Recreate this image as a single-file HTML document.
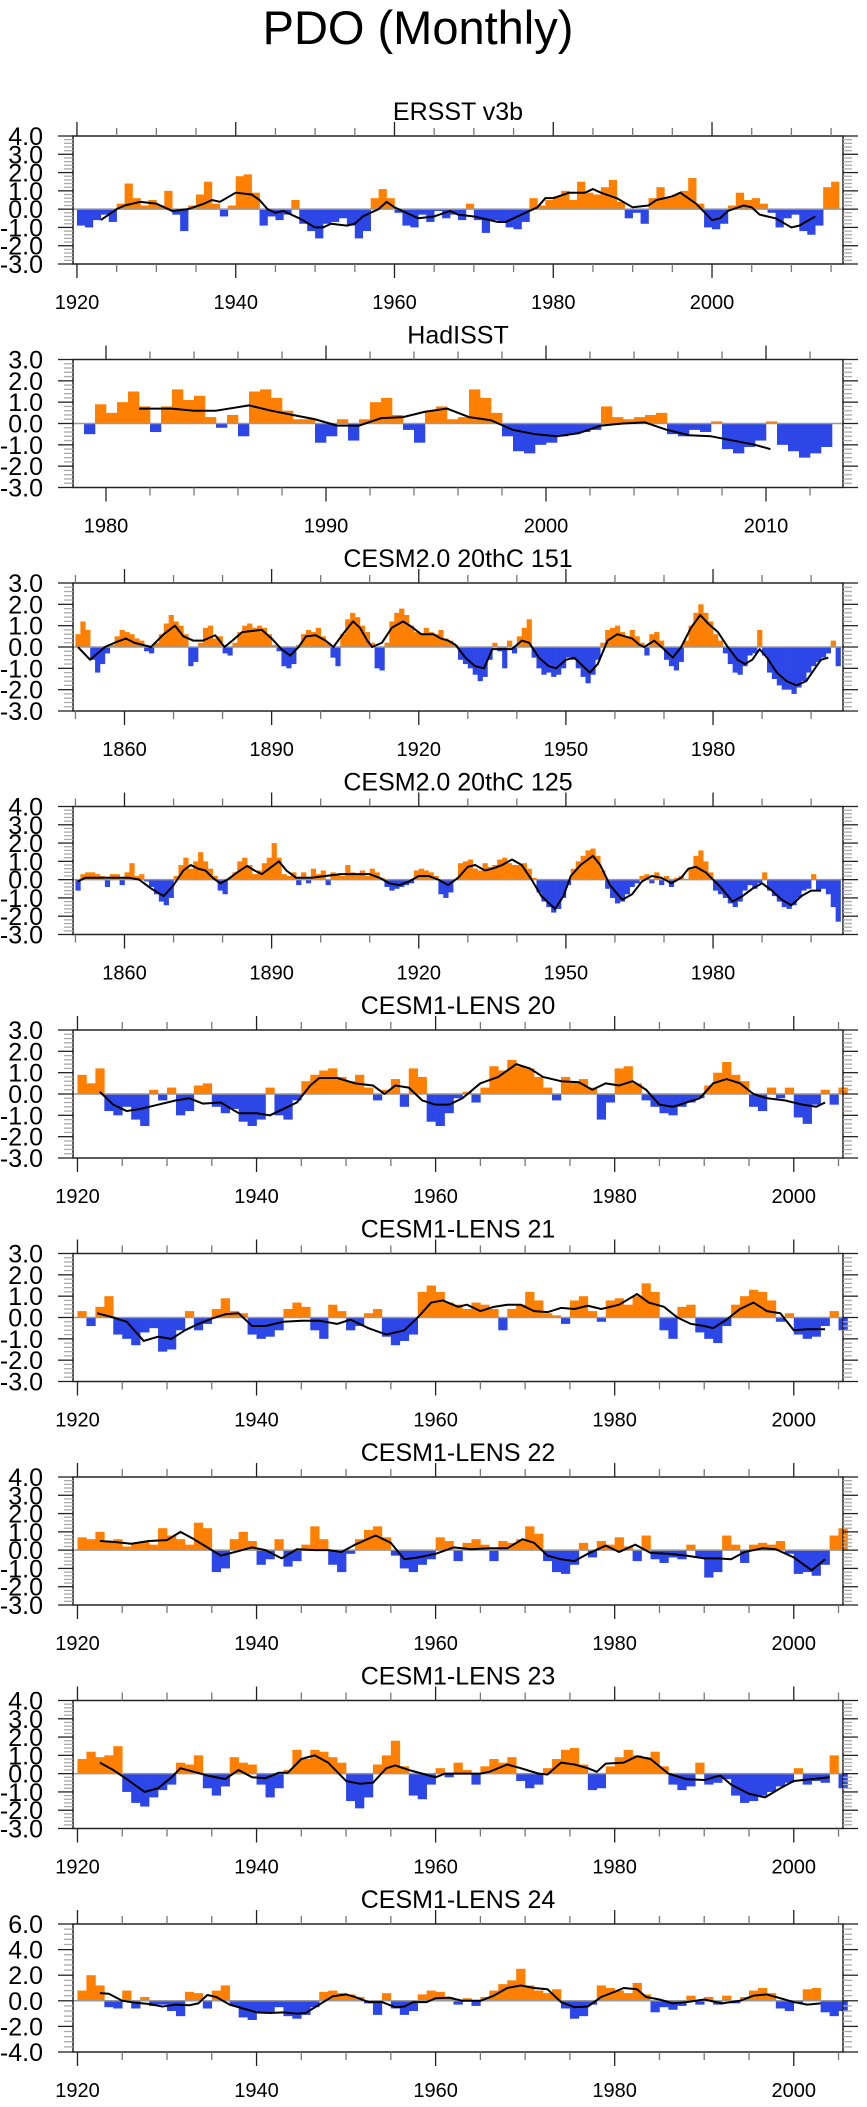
<!DOCTYPE html>
<html>
<head>
<meta charset="utf-8">
<style>
html,body{margin:0;padding:0;background:#fff;}
svg{display:block;font-family:"Liberation Sans",Arial,sans-serif;}
</style>
</head>
<body>
<svg id="chart" width="867" height="2107" viewBox="0 0 867 2107" xmlns="http://www.w3.org/2000/svg">
<rect x="0" y="0" width="867" height="2107" fill="#fff"/>
<text x="418" y="44" font-size="47" text-anchor="middle" fill="#000">PDO (Monthly)</text>
</svg>
<script>
// ---- data arrays (yearly estimates) ----
const titles = ["ERSST v3b","HadISST","CESM2.0 20thC 151","CESM2.0 20thC 125","CESM1-LENS 20","CESM1-LENS 21","CESM1-LENS 22","CESM1-LENS 23","CESM1-LENS 24"];

const ersstStart = 1920;
const ersstVals = [-0.9,-1.0,-0.6,-0.3,-0.7,0.3,1.4,0.6,0.2,0.5,0.2,1.0,-0.3,-1.2,0.2,0.8,1.5,0.3,-0.4,0.2,1.8,1.9,0.9,-0.9,-0.4,-0.6,-0.3,0.5,-0.8,-1.2,-1.6,-0.8,-0.7,-0.5,-0.9,-1.6,-1.2,0.6,1.1,0.6,-0.2,-0.9,-1.0,-0.3,-0.7,-0.1,-0.5,-0.3,-0.6,0.3,-0.6,-1.3,-0.6,-0.7,-1.0,-1.1,-0.7,0.6,0.2,0.5,0.7,1.0,0.5,1.5,0.9,0.8,1.2,1.6,0.4,-0.5,-0.2,-0.8,0.6,1.2,0.6,0.8,1.0,1.7,0.3,-1.0,-1.1,-0.8,0.2,0.9,0.5,0.6,0.3,-0.2,-1.0,-0.5,-0.3,-1.2,-1.4,-0.9,1.2,1.5];
const ersstSmoothX = [1923,1925,1926,1928,1930,1932,1934,1936,1937,1938,1940,1942,1943,1944,1945,1946,1948,1950,1951,1952,1954,1955,1956,1958,1959,1960,1962,1963,1965,1967,1968,1970,1972,1973,1974,1976,1978,1979,1980,1982,1984,1985,1986,1988,1990,1992,1993,1995,1996,1998,2000,2001,2002,2004,2005,2006,2008,2010,2011,2013];
const ersstSmoothY = [-0.6,0.0,0.2,0.4,0.3,-0.1,0.0,0.3,0.5,0.4,0.9,0.8,0.5,0.0,-0.2,-0.1,-0.5,-1.0,-1.0,-0.8,-0.9,-0.8,-0.4,0.0,0.4,0.1,-0.3,-0.5,-0.4,-0.1,-0.3,-0.4,-0.6,-0.7,-0.7,-0.3,0.1,0.6,0.6,0.9,0.9,1.1,0.9,0.6,0.1,0.2,0.5,0.7,0.9,0.3,-0.6,-0.5,-0.1,0.2,0.1,-0.3,-0.5,-1.0,-0.9,-0.4];

const hadStart = 1979;
const hadVals = [-0.5,0.9,0.5,1.0,1.5,0.8,-0.4,0.8,1.6,1.1,1.3,0.3,-0.2,0.4,-0.6,1.5,1.6,1.2,0.6,0.2,0.2,-0.9,-0.6,0.2,-0.8,0.2,1.0,1.2,0.4,-0.3,-0.9,0.6,0.8,0.2,0.3,1.6,1.2,0.5,-0.6,-1.3,-1.4,-1.0,-0.9,-0.6,-0.5,-0.4,-0.3,0.8,0.3,0.2,0.3,0.4,0.5,-0.5,-0.6,-0.3,-0.4,0.1,-1.2,-1.4,-1.1,-0.8,0.1,-1.0,-1.3,-1.6,-1.4,-1.1];
const hadSmoothX = [1981.5,1983,1984,1985,1986.5,1987.5,1988.5,1989.5,1990.5,1991.5,1992.5,1993.5,1994.5,1995.5,1996.5,1997.5,1998.5,1999.5,2000.5,2001.5,2002.5,2003.5,2004.5,2005.5,2006.5,2007.5,2008.5,2009.5,2010.2];
const hadSmoothY = [0.7,0.7,0.6,0.6,0.85,0.6,0.4,0.2,-0.1,-0.1,0.25,0.3,0.55,0.7,0.3,0.15,-0.3,-0.5,-0.6,-0.45,-0.1,0.0,0.05,-0.3,-0.55,-0.6,-0.8,-1.0,-1.2];

const c151Start = 1850;
const c151Vals = [0.6,1.2,0.8,-0.6,-1.2,-0.8,-0.3,0.1,0.5,0.8,0.7,0.6,0.4,0.3,-0.2,-0.3,0.2,0.6,1.1,1.5,1.2,1.0,0.6,-0.9,-0.7,0.2,0.9,1.0,0.4,0.5,-0.3,-0.4,0.2,0.7,1.0,1.1,0.9,1.0,0.9,0.6,0.1,-0.2,-0.9,-1.0,-0.8,0.1,0.6,0.8,0.7,0.9,0.5,0.2,-0.5,-0.9,0.6,1.3,1.6,1.4,1.0,0.7,0.2,-1.0,-1.1,0.2,1.2,1.6,1.8,1.5,1.0,0.7,0.6,0.9,0.7,0.6,0.8,0.4,0.3,0.1,-0.6,-0.8,-1.0,-1.3,-1.6,-1.4,-0.6,0.2,-0.2,-1.0,0.3,-0.3,0.5,0.9,1.3,-0.5,-1.0,-1.3,-1.2,-1.4,-1.3,-1.0,-0.5,-0.6,-1.0,-1.4,-1.7,-1.3,-0.6,0.2,0.8,0.9,1.0,0.7,0.5,0.8,0.5,0.2,-0.4,0.6,0.7,0.3,-0.6,-0.9,-1.1,-0.7,0.3,1.0,1.6,2.0,1.6,1.2,0.6,0.3,-0.3,-0.8,-1.2,-1.3,-0.9,-0.4,-0.3,0.8,-0.4,-1.2,-1.5,-1.8,-2.0,-2.0,-2.2,-1.9,-1.6,-1.2,-0.9,-0.7,-0.5,-0.3,0.3,-0.9];
const c151SmoothX = [1850.5,1853,1856,1858,1860.3,1862,1865.4,1868,1870.3,1872,1874,1876,1878.5,1880.4,1882,1884,1886,1888,1890,1892,1893.8,1895.5,1897,1899,1901,1902.6,1904.5,1906.6,1908,1909.5,1910.5,1912.5,1914.5,1916.8,1918.5,1920.5,1923,1924.5,1926,1927.5,1929.5,1931.5,1933.3,1935,1937,1939,1941,1942.5,1944.5,1946.5,1948,1950,1951.7,1953.5,1954.9,1956.5,1958.5,1960.5,1962,1963.5,1965,1966,1968,1969.5,1971.8,1973.5,1975.5,1977.4,1979,1981,1983,1985,1986.5,1988,1989.5,1991,1993,1995,1997,1999,2000.5,2002,2003.5];
const c151SmoothY = [0.0,-0.6,0.0,0.2,0.4,0.2,0.0,0.6,1.0,0.5,0.3,0.3,0.55,0.0,0.3,0.7,0.75,0.8,0.4,-0.1,-0.4,0.0,0.5,0.55,0.3,0.0,0.6,1.2,0.9,0.3,0.0,0.2,0.9,1.2,0.95,0.6,0.6,0.4,0.3,0.1,-0.5,-0.9,-1.0,-0.1,-0.1,-0.1,0.3,0.2,-0.5,-0.9,-1.0,-0.6,-0.5,-0.9,-1.2,-0.8,0.3,0.6,0.5,0.4,0.1,0.0,0.3,0.0,-0.5,0.0,0.9,1.5,1.1,0.7,0.0,-0.6,-0.8,-0.6,-0.1,-0.5,-1.2,-1.6,-1.8,-1.6,-1.1,-0.6,-0.5];

const c125Start = 1850;
const c125Vals = [-0.6,0.3,0.4,0.4,0.3,0.2,-0.4,0.3,0.3,-0.3,0.4,0.9,0.2,0.3,-0.1,-0.4,-0.8,-1.2,-1.4,-1.0,0.2,0.8,1.2,0.6,1.0,1.5,1.0,0.6,0.2,-0.6,-0.8,0.1,0.4,1.0,1.2,0.8,0.3,0.5,0.9,1.2,2.0,1.2,0.3,0.2,0.4,-0.3,0.4,-0.2,0.6,0.3,0.5,-0.3,0.4,0.3,0.2,0.8,0.4,0.3,0.5,0.2,0.6,0.4,0.1,-0.4,-0.6,-0.5,-0.4,-0.3,-0.2,0.5,0.6,0.5,0.4,0.2,-0.8,-1.0,-0.7,0.0,0.9,1.0,1.1,0.6,0.5,0.9,0.7,0.8,1.1,1.2,0.9,0.8,0.8,0.9,0.6,0.1,-0.7,-1.2,-1.5,-1.8,-1.6,-1.0,-0.3,0.6,1.0,1.3,1.6,1.7,1.3,0.5,-0.5,-1.0,-1.3,-1.2,-0.8,-0.4,-0.2,0.2,0.3,-0.2,0.4,-0.3,0.2,-0.4,0.1,0.2,0.0,0.6,1.3,1.6,1.0,0.4,-0.6,-0.8,-1.0,-1.3,-1.5,-1.2,-0.6,-0.3,-0.5,-0.2,0.4,-0.6,-0.9,-1.2,-1.5,-1.6,-1.4,-1.0,-0.6,-0.5,0.3,-0.6,-0.5,-0.8,-1.5,-2.3];
const c125SmoothX = [1850.5,1852,1855,1858,1861,1863,1865.5,1868,1870,1872,1873.5,1875,1876.5,1878,1879.5,1881,1883,1885,1886.5,1888,1890,1891.5,1893,1895,1898,1901,1904,1907,1910,1912,1914,1916,1918,1920,1922,1924,1926,1928,1930,1931.5,1933.5,1935,1937,1939,1941,1943,1945,1947.8,1949.5,1951,1953,1955.5,1957,1959,1961.5,1963.5,1965.5,1967.5,1969.5,1971.5,1973.5,1975,1976.5,1978.5,1980,1981.5,1984,1986,1988,1990,1992,1994,1996,1998,2000,2002];
const c125SmoothY = [-0.1,0.1,0.1,0.1,0.1,0.0,-0.5,-0.9,-0.3,0.5,0.8,0.6,0.5,0.1,-0.2,0.0,0.4,0.75,0.5,0.3,0.7,1.0,0.5,0.1,0.1,0.2,0.3,0.3,0.3,0.1,-0.2,-0.3,-0.1,0.2,0.2,0.0,-0.3,0.1,0.7,0.8,0.5,0.6,0.8,1.1,0.8,0.0,-0.9,-1.6,-0.9,0.2,0.8,1.3,0.8,-0.3,-1.1,-0.8,-0.1,0.2,0.1,-0.2,0.1,0.6,0.7,0.4,0.0,-0.4,-1.2,-0.9,-0.5,-0.2,-0.6,-1.1,-1.4,-0.9,-0.6,-0.6];

const l20Start = 1920;
const l20Vals = [0.9,0.5,1.2,-0.8,-1.0,-0.6,-1.2,-1.5,0.2,-0.3,0.3,-1.0,-0.8,0.4,0.5,-0.6,-0.9,-0.7,-1.3,-1.5,-1.2,0.3,-1.0,-1.2,-0.3,0.6,0.9,1.1,1.2,0.8,0.6,0.9,0.3,-0.3,0.2,0.7,-0.6,1.2,0.8,-1.3,-1.5,-0.9,-0.2,0.1,-0.4,0.3,1.3,1.1,1.6,1.3,1.2,0.8,0.3,-0.3,0.8,0.6,0.7,0.3,-1.2,-0.4,1.2,1.3,0.5,-0.3,-0.6,-0.9,-1.0,-0.6,-0.4,-0.2,0.4,1.0,1.5,0.9,0.6,-0.6,-0.8,0.3,-0.2,0.3,-1.1,-1.4,-0.5,0.2,-0.5,0.3];
const l20SmoothX = [1922.5,1924,1925.5,1927,1929,1931,1932.5,1934,1936,1938,1940,1941.5,1943,1944.5,1946,1947,1949,1951,1953,1954.3,1955.5,1957,1958.5,1960,1961.5,1963,1965,1967,1969,1970.5,1972,1974,1976,1977.5,1979,1980.5,1982,1983.5,1985,1986.5,1988,1989.5,1991,1992.5,1994,1995.5,1997,1999,2001,2002.5,2003.5];
const l20SmoothY = [0.1,-0.5,-0.8,-0.7,-0.5,-0.3,-0.2,-0.45,-0.4,-0.9,-0.9,-1.0,-0.7,-0.4,0.4,0.75,0.75,0.5,0.4,0.0,0.4,0.3,-0.3,-0.5,-0.5,-0.2,0.5,0.8,1.4,1.2,0.8,0.6,0.55,0.2,0.5,0.4,0.6,0.2,-0.5,-0.6,-0.4,-0.2,0.5,0.7,0.5,0.0,-0.2,-0.3,-0.5,-0.6,-0.4];

const l21Start = 1920;
const l21Vals = [0.3,-0.4,0.5,1.0,-0.8,-1.0,-1.3,-0.7,-0.5,-1.6,-1.5,-0.6,0.3,-0.6,-0.3,0.4,0.9,0.3,0.2,-0.8,-1.0,-0.9,-0.6,0.4,0.7,0.5,-0.6,-1.0,0.6,0.3,-0.6,-0.4,0.2,0.4,-0.9,-1.3,-1.1,-0.8,1.2,1.5,1.2,0.7,0.6,0.4,0.7,0.6,0.4,-0.6,0.4,0.6,1.2,0.8,0.2,0.1,-0.3,0.8,1.0,0.3,-0.2,0.8,0.9,0.6,1.0,1.6,1.2,-0.6,-1.0,0.5,0.6,-0.7,-1.0,-1.2,-0.4,0.6,1.0,1.3,1.2,0.8,-0.2,0.2,-0.8,-1.0,-0.9,-0.4,0.3,-0.6];
const l21SmoothX = [1922.2,1924,1925.5,1927.4,1929,1930.5,1932,1933.5,1935,1936.5,1938,1939.5,1941,1943,1945,1947,1949,1950.5,1952.5,1954.5,1956.5,1958,1959.5,1960.8,1962.5,1963.5,1965,1966.5,1968,1969.5,1971,1972.5,1974,1975.5,1977,1978.5,1980.5,1982.5,1983.8,1985.5,1987,1988.5,1990,1991,1992.5,1994,1995.5,1997,1998.5,2000,2001.5,2003.5];
const l21SmoothY = [0.2,0.0,-0.2,-1.1,-0.9,-1.0,-0.6,-0.3,-0.05,0.15,0.2,-0.4,-0.4,-0.2,-0.15,-0.15,-0.3,-0.1,-0.5,-0.8,-0.6,0.0,0.7,0.8,0.5,0.6,0.3,0.5,0.6,0.6,0.3,0.25,0.45,0.4,0.55,0.4,0.6,1.1,0.7,0.5,0.0,-0.3,-0.4,-0.5,-0.1,0.4,0.7,0.3,0.2,-0.6,-0.55,-0.55];

const l22Start = 1920;
const l22Vals = [0.7,0.6,1.0,0.5,0.6,0.2,0.4,0.5,0.3,1.2,0.8,0.6,0.3,1.5,1.2,-1.2,-1.0,0.6,1.0,0.5,-0.8,-0.5,0.6,-0.9,-0.6,0.3,1.3,0.6,-0.8,-1.2,-0.2,0.6,1.1,1.3,0.7,-0.3,-1.0,-1.2,-0.8,-0.5,0.7,0.5,-0.6,0.4,0.6,0.3,-0.6,0.5,0.4,0.6,1.3,0.9,-0.6,-1.2,-1.3,-0.8,0.4,-0.4,0.5,0.3,0.7,0.2,-0.6,0.8,-0.5,-0.7,-0.4,-0.5,0.3,-0.4,-1.5,-1.2,0.8,0.3,-0.7,0.3,0.4,0.3,0.5,-0.2,-1.3,-1.2,-1.4,-0.8,0.8,1.2];
const l22SmoothX = [1922.5,1924,1926,1928,1930,1931.5,1933,1934.5,1936,1938,1939.5,1941,1942.8,1944.5,1946.5,1948,1949.5,1951,1953.3,1955,1956.5,1958,1960,1962,1964,1966,1968,1969.7,1971,1972.5,1974,1975.5,1977,1979,1980.5,1982.3,1984,1986,1988,1990,1991.5,1993,1994.5,1996.5,1998,2000,2002,2003.5];
const l22SmoothY = [0.5,0.45,0.35,0.5,0.55,1.0,0.6,0.15,-0.3,-0.05,0.15,0.0,-0.45,0.05,0.0,0.0,-0.1,0.3,0.8,0.4,-0.5,-0.4,-0.2,0.15,0.05,0.1,0.1,0.6,0.4,-0.3,-0.5,-0.6,-0.2,0.25,-0.1,0.3,-0.15,-0.2,-0.3,-0.45,-0.45,-0.5,-0.1,0.1,0.05,-0.4,-1.1,-0.5];

const l23Start = 1920;
const l23Vals = [0.8,1.2,0.9,1.0,1.5,-1.0,-1.6,-1.8,-1.3,-0.9,-0.6,0.6,0.5,1.0,-0.8,-1.2,-0.7,0.9,0.6,0.5,-0.6,-1.3,-0.8,0.2,1.3,0.8,1.3,1.2,0.9,0.6,-1.5,-1.9,-1.3,0.5,1.0,1.8,0.4,-1.2,-1.4,-0.6,0.3,-0.2,0.6,0.2,-0.6,0.4,0.8,0.6,0.9,-0.4,-0.8,-0.6,0.3,0.8,1.3,1.4,0.5,-0.9,-0.8,0.4,0.9,1.3,1.0,0.9,1.2,0.4,-0.6,-0.9,-0.7,0.6,-0.6,-0.5,-0.3,-1.2,-1.6,-1.5,-1.2,-1.0,-0.7,-0.5,0.3,-0.6,-0.4,-0.5,1.0,-0.8];
const l23SmoothX = [1922.5,1924,1925.5,1927.5,1929,1930.5,1931.5,1933,1934.5,1936.5,1938,1939.5,1941,1942.5,1943.5,1945,1946.5,1948,1950,1951.5,1953,1954.5,1955.5,1957,1958.5,1960,1961,1963,1965,1966,1968,1969.5,1971.5,1972.5,1974,1975.5,1977,1978,1979,1981,1982.5,1984,1986,1988,1990,1991.8,1993,1995,1996.8,1998.5,2000,2002,2004];
const l23SmoothY = [0.6,0.2,-0.3,-1.0,-0.8,-0.2,0.3,0.1,-0.1,-0.3,0.2,-0.2,-0.25,0.05,0.05,0.8,1.0,0.6,-0.4,-0.55,-0.5,0.3,0.45,0.2,0.0,-0.2,0.0,0.0,0.0,0.1,0.5,0.3,0.0,-0.05,0.6,0.5,0.3,0.1,0.55,0.6,0.95,0.8,0.0,-0.3,-0.35,-0.1,-0.6,-1.1,-1.3,-0.8,-0.4,-0.3,-0.2];

const l24Start = 1920;
const l24Vals = [0.8,2.0,1.2,-0.5,-0.6,0.8,-0.6,0.3,-0.4,-0.3,-0.8,-1.2,0.7,0.6,-0.6,0.8,1.2,-0.4,-1.3,-1.5,-1.0,-0.9,-0.5,-1.2,-1.4,-1.1,-0.5,0.7,0.8,0.6,0.5,0.3,-0.2,-1.1,0.6,-0.6,-1.1,-0.8,0.5,0.8,0.7,0.3,-0.3,0.2,-0.4,0.3,0.8,1.3,1.6,2.5,1.2,0.8,0.6,0.9,-0.6,-1.4,-1.2,-0.3,1.2,1.0,0.8,0.6,1.4,0.5,-0.9,-0.5,-0.7,-0.4,0.4,-0.3,0.3,-0.3,0.4,-0.2,0.3,0.8,1.0,0.6,-0.6,-0.8,-0.2,0.9,1.0,-0.9,-1.2,-0.8];
const l24SmoothX = [1922.5,1923.5,1925,1926.5,1928,1929.5,1931,1932.5,1933.5,1934.5,1935.5,1937,1938.5,1940,1941.5,1943,1944.5,1945.5,1947,1948.5,1950,1951,1952.5,1954,1955.5,1956.5,1957.5,1959,1960,1961.5,1963,1965,1966.5,1968,1969.5,1971,1972.5,1974,1975.5,1977,1978.5,1980,1981,1982.5,1983.5,1985,1986.5,1988,1990,1992,1994,1995.5,1997,1998.5,2000,2001.5,2003];
const l24SmoothY = [0.6,0.55,0.0,-0.15,-0.25,-0.45,-0.3,-0.35,-0.2,0.45,0.3,-0.3,-0.6,-0.9,-0.95,-0.9,-1.0,-0.95,-0.3,0.35,0.5,0.3,-0.1,-0.1,-0.5,-0.45,-0.1,-0.1,0.2,0.25,0.0,0.0,0.4,1.0,1.2,1.0,0.9,-0.1,-0.5,-0.45,0.3,0.7,1.0,0.9,0.3,0.1,-0.2,-0.1,0.1,-0.2,0.0,0.4,0.5,0.2,-0.1,-0.3,-0.2];

// x ranges and ticks per panel
const xMins = [1919.5,1978.5,1849.5,1849.5,1919.5,1919.5,1919.5,1919.5,1919.5];
const xMaxs = [2016.5,2013.5,2006.5,2006.5,2005.5,2005.5,2005.5,2005.5,2005.5];
const yMins = [-3,-3,-3,-3,-3,-3,-3,-3,-4];
const yMaxs = [4,3,3,4,3,3,4,4,6];
const yMajor = [1,1,1,1,1,1,1,1,2];
const xMajorStart = [1920,1980,1860,1860,1920,1920,1920,1920,1920];
const xMajorStep = [20,10,30,30,20,20,20,20,20];
const xMinorStep = [5,2,10,10,5,5,5,5,5];

const panelData = [
  [ersstStart,1,ersstVals,ersstSmoothX,ersstSmoothY],
  [hadStart,0.5,hadVals,hadSmoothX,hadSmoothY],
  [c151Start,1,c151Vals,c151SmoothX,c151SmoothY],
  [c125Start,1,c125Vals,c125SmoothX,c125SmoothY],
  [l20Start,1,l20Vals,l20SmoothX,l20SmoothY],
  [l21Start,1,l21Vals,l21SmoothX,l21SmoothY],
  [l22Start,1,l22Vals,l22SmoothX,l22SmoothY],
  [l23Start,1,l23Vals,l23SmoothX,l23SmoothY],
  [l24Start,1,l24Vals,l24SmoothX,l24SmoothY]
];

const NS = "http://www.w3.org/2000/svg";
const svg = document.getElementById('chart');
const BX0 = 73, BX1 = 843, BH = 128;
function mk(tag, attrs, parent){
  const e = document.createElementNS(NS, tag);
  for (const k in attrs) e.setAttribute(k, attrs[k]);
  parent.appendChild(e);
  return e;
}
function fmt(v){ return v.toFixed(1); }

for (let p = 0; p < 9; p++){
  const top = 136 + p*223.5;
  const bot = top + BH;
  const xmin = xMins[p], xmax = xMaxs[p], ymin = yMins[p], ymax = yMaxs[p];
  const xs = v => BX0 + (v - xmin) / (xmax - xmin) * (BX1 - BX0);
  const ys = v => bot - (v - ymin) / (ymax - ymin) * BH;

  const g = mk('g', {}, svg);
  
  

  const t = mk('text', {x: (BX0+BX1)/2, y: top-16, 'font-size': 25, 'text-anchor':'middle', fill:'#000'}, g);
  t.textContent = titles[p];
  
  

  // bars
  const [start, step, vals, sx, sy] = panelData[p];
  const barsG = mk('g', {}, g);
  
  
  const y0 = ys(0);
  for (let i = 0; i < vals.length; i++){
    const x0 = xs(start + i*step), x1 = xs(start + (i+1)*step);
    const yv = ys(vals[i]);
    const r = mk('rect', {x: x0.toFixed(2), y: Math.min(yv,y0).toFixed(2), width: (x1-x0+0.3).toFixed(2), height: Math.abs(yv-y0).toFixed(2), fill: vals[i] >= 0 ? '#ff8000' : '#2d46e8'}, barsG);
    
    
  }
  // zero line
  const zl = mk('line', {x1: BX0, x2: BX1, y1: y0, y2: y0, stroke:'#999', 'stroke-width':1.5}, g);
  
  
  // smooth line
  let d = '';
  for (let i = 0; i < sx.length; i++) d += (i ? 'L' : 'M') + xs(sx[i]).toFixed(2) + ',' + ys(sy[i]).toFixed(2);
  const sl = mk('path', {d: d, fill:'none', stroke:'#000', 'stroke-width':2, 'stroke-linejoin':'round'}, g);
  
  

  // box
  const bx = mk('rect', {x: BX0, y: top, width: BX1-BX0, height: BH, fill:'none', stroke:'#222', 'stroke-width':1.5}, g);
  
  

  // y ticks
  const ym = yMajor[p], yminor = ym/5;
  const nMinor = Math.round((ymax - ymin)/yminor);
  for (let k = 0; k <= nMinor; k++){
    const v = ymin + k*yminor;
    const yy = ys(v);
    const major = (k % 5 === 0);
    const len = major ? 15 : 9;
    const col = major ? '#222' : '#aaa';
    mk('line', {x1: BX0-len, x2: BX0, y1: yy, y2: yy, stroke: col, 'stroke-width': 1.3}, g);
    mk('line', {x1: BX1, x2: BX1+len, y1: yy, y2: yy, stroke: col, 'stroke-width': 1.3}, g);
    if (major){
      const lb = mk('text', {x: 43, y: yy+9, 'font-size': 25, 'text-anchor':'end', fill:'#000'}, g);
      lb.textContent = fmt(v);
      
      
    }
  }
  // x ticks
  const ms = xMinorStep[p];
  const firstMinor = Math.ceil(xmin/ms)*ms;
  for (let v = firstMinor; v <= xmax; v += ms){
    const xx = xs(v);
    const major = ((v - xMajorStart[p]) % xMajorStep[p] === 0) && v >= xMajorStart[p];
    const len = major ? 14 : 8;
    const col = major ? '#222' : '#777';
    mk('line', {x1: xx, x2: xx, y1: top-len, y2: top, stroke: col, 'stroke-width': 1.3}, g);
    mk('line', {x1: xx, x2: xx, y1: bot, y2: bot+len, stroke: col, 'stroke-width': 1.3}, g);
    if (major){
      const lb = mk('text', {x: xx, y: top+173, 'font-size': 20, 'text-anchor':'middle', fill:'#000'}, g);
      lb.textContent = String(v);
      
      
    }
  }
}
</script>
</body>
</html>
